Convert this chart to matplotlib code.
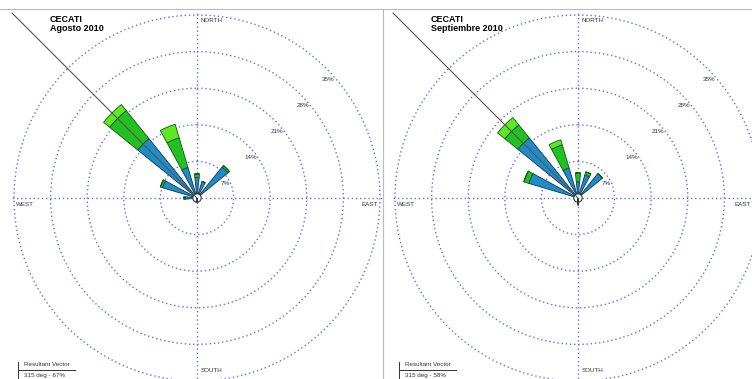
import numpy as np
import matplotlib
matplotlib.use("Agg")
import matplotlib.pyplot as plt

plt.rcParams['font.family'] = ['Liberation Sans', 'DejaVu Sans']

# wind directions (degrees from north) with a petal in either month
directions = [0, 22.5, 45, 180, 270, 292.5, 315, 337.5]

# Agosto 2010 - frequency (%) per speed class
ago_blue = [3.9, 3.3, 7.6, 0.0, 2.3, 6.9, 14.6, 6.1]
ago_green = [0.7, 0.0, 0.4, 0.0, 0.2, 0.4, 6.9, 5.9]
ago_lime = [0.0, 0.0, 0.0, 0.0, 0.0, 0.0, 1.5, 2.7]

# Septiembre 2010
sep_blue = [3.1, 4.6, 6.0, 1.3, 0.0, 9.8, 14.8, 6.0]
sep_green = [1.7, 0.6, 0.0, 0.0, 0.0, 1.0, 3.2, 4.6]
sep_lime = [0.0, 0.0, 0.0, 0.0, 0.0, 0.0, 1.8, 1.0]

rings = [7, 14, 21, 28, 35]
ring_labels = ['7%', '14%', '21%', '28%', '35%']
titles = ['CECATI\nAgosto 2010', 'CECATI\nSeptiembre 2010']
vector_dir = [315, 315]
vector_text = ['315 deg - 67%', '315 deg - 58%']

W, H = 752, 379
fig = plt.figure(figsize=(W / 100, H / 100), dpi=100)

grid_col = '#6a6af2'
cols = ['#1f8cc8', '#22c022', '#5ee822']
edges = ['#0d3550', '#0f5a0f', '#0f5a0f']
panels = [(ago_blue, ago_green, ago_lime), (sep_blue, sep_green, sep_lime)]
centers = [197, 578]
rmax = 35.4
R = 183 * rmax / 35  # pixel radius of the axes
cy = 198

for i, (blue, green, lime) in enumerate(panels):
    cx = centers[i]
    ax = fig.add_axes([(cx - R) / W, (H - cy - R) / H, 2 * R / W, 2 * R / H],
                      projection='polar')
    ax.set_theta_zero_location('N')
    ax.set_theta_direction(-1)
    ax.set_ylim(0, rmax)
    ax.set_yticks(rings)
    ax.set_yticklabels([])
    ax.set_xticks(np.deg2rad([0, 90, 180, 270]))
    ax.set_xticklabels([])
    ax.grid(True, color=grid_col, ls=(0, (1, 2)), lw=1.0)
    for gl in ax.xaxis.get_gridlines():
        gl.set_data(gl.get_xdata(), [0, 35])
    ax.spines['polar'].set_visible(False)
    ax.patch.set_alpha(0)

    th = np.deg2rad(directions)
    wd = np.deg2rad(12)
    b = np.array(blue)
    g = np.array(green)
    l = np.array(lime)
    ax.bar(th, b, width=wd, bottom=0, color=cols[0], edgecolor=edges[0], lw=0.6, zorder=3)
    ax.bar(th, g, width=wd, bottom=b, color=cols[1], edgecolor=edges[1], lw=0.6, zorder=3)
    ax.bar(th, l, width=wd, bottom=b + g, color=cols[2], edgecolor=edges[2], lw=0.6, zorder=3)
    # calm circle
    ax.bar(0, 0.8, width=2 * np.pi, bottom=0, color='white', edgecolor='#333333', lw=0.8, zorder=4)

    # resultant vector
    ax.plot([np.deg2rad(vector_dir[i])] * 2, [0, 50], color='#555555', lw=0.8,
            zorder=5, clip_on=False)

    for r, s in zip(rings, ring_labels):
        ax.annotate(s, xy=(np.deg2rad(45), r), xytext=(1.5, -8), textcoords='offset points',
                    fontsize=4.5, color='#333333', ha='center', va='center', zorder=6)

    fig.text((cx + 4) / W, 1 - 20 / H, 'NORTH', fontsize=4.5, color='#333333', va='center')
    fig.text((cx + 4) / W, 1 - 370 / H, 'SOUTH', fontsize=4.5, color='#333333', va='center')
    fig.text((cx - 181) / W, 1 - 205 / H, 'WEST', fontsize=4.5, color='#333333', va='center')
    fig.text(min(cx + 181, W - 1) / W, 1 - 205 / H, 'EAST', fontsize=4.5, color='#333333',
             va='center', ha='right')

    fig.text((cx - 147) / W, 1 - 24 / H, titles[i], fontsize=6.5, fontweight='bold',
             va='center', linespacing=1.1)

    # resultant vector legend
    lx = cx - 179
    fig.add_artist(plt.Line2D([lx / W, lx / W], [1 - 362 / H, 1 - 378 / H], color='#333333', lw=0.7))
    fig.add_artist(plt.Line2D([lx / W, (lx + 57) / W], [1 - 369.5 / H, 1 - 369.5 / H], color='#333333', lw=0.7))
    fig.text((lx + 6) / W, 1 - 365 / H, 'Resultant Vector', fontsize=4.5, color='#333333', va='center')
    fig.text((lx + 6) / W, 1 - 376 / H, vector_text[i], fontsize=4.5, color='#333333', va='center')

# panel borders
fig.add_artist(plt.Line2D([0, 1], [1 - 9 / H, 1 - 9 / H], color='#bbbbbb', lw=0.8))
fig.add_artist(plt.Line2D([383 / W, 383 / W], [0, 1 - 9 / H], color='#bbbbbb', lw=0.8))

fig.savefig('out.png', dpi=100)
